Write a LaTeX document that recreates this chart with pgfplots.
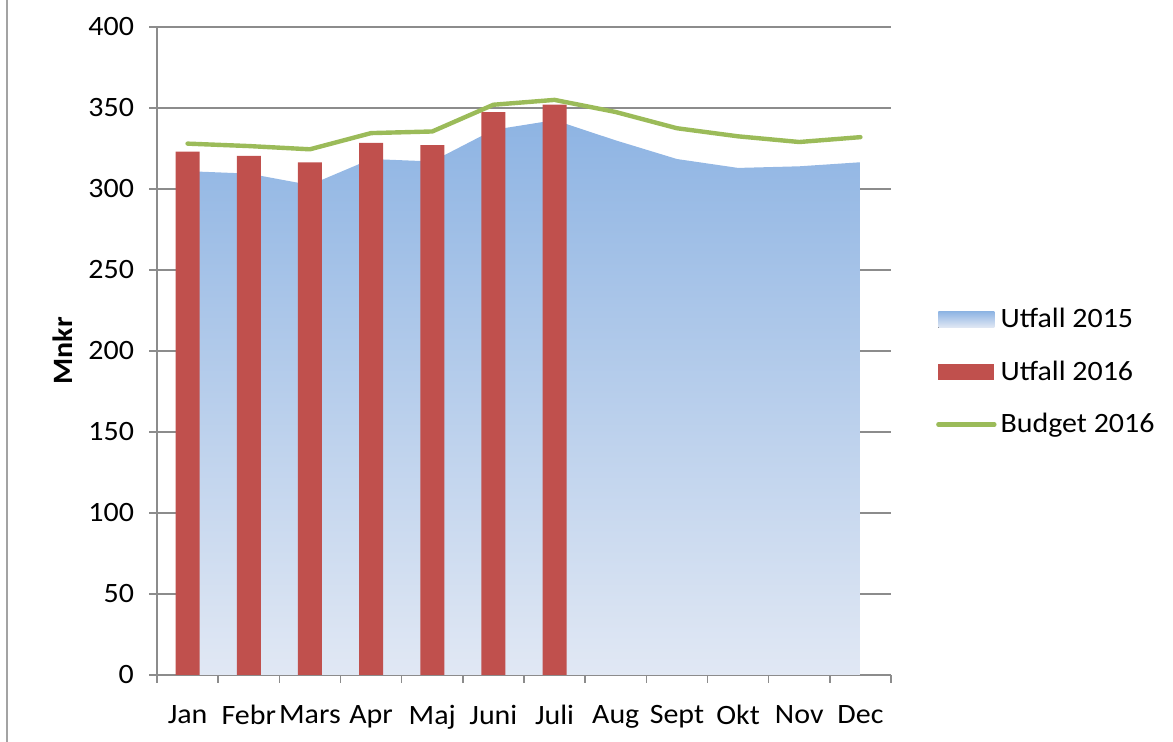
\documentclass[border=0pt]{standalone}
\usepackage{fontspec}
\setmainfont{Carlito}[FakeStretch=1.07]
\usepackage{pgfplots}
\pgfplotsset{compat=1.18}
\definecolor{barred}{HTML}{C0504D}
\definecolor{budgetgreen}{HTML}{9BBB59}
\definecolor{areatop}{HTML}{8EB4E3}
\definecolor{areabot}{HTML}{E1E8F4}
\definecolor{gridgray}{HTML}{8C8C8C}
\begin{document}
\begin{tikzpicture}[x=1pt,y=1pt]
\path[use as bounding box] (0,0) rectangle (586.5,371);
\draw[gridgray!80, line width=0.9pt] (3.5,0) -- (3.5,371);
\begin{axis}[
  at={(78.5pt,33.5pt)}, anchor=south west,
  scale only axis, width=367pt, height=324pt,
  xmin=0.5, xmax=12.5, ymin=0, ymax=400,
  axis x line*=bottom, axis y line*=left,
  axis line style={gridgray, line width=0.8pt, -},
  font=\fontsize{14}{16.5}\selectfont,
  /pgf/number format/assume math mode=true,
  xtick={1,...,12},
  xticklabels={Jan,Febr,Mars,Apr,Maj,Juni,Juli,Aug,Sept,Okt,Nov,Dec},
  major x tick style={draw=none},
  minor xtick={0.5,1.5,...,12.5},
  minor tick length=4pt,
  minor x tick style={gridgray, line width=0.8pt},
  ytick={0,50,...,400},
  major tick length=4pt,
  tick align=outside,
  ytick style={gridgray, line width=0.8pt},
  ymajorgrids, grid style={gridgray, line width=0.8pt},
  xticklabel style={yshift=-7.5pt},
  yticklabel style={xshift=-4pt},
  every axis y label/.style={at={(axis description cs:-0.128,0.5)}, rotate=90, anchor=center, font=\fontsize{14}{16.5}\selectfont\bfseries},
  ylabel={Mnkr},
  legend style={draw=none, fill=none, at={(1.061,0.4676)}, anchor=west, inner sep=0pt, row sep=11pt, font=\fontsize{14}{16.5}\selectfont, nodes={inner sep=2pt}},
  legend cell align=left,
]
\addplot[draw=none, top color=areatop, bottom color=areabot,
  legend image code/.code={\fill[top color=areatop, bottom color=areabot] (0pt,-4pt) rectangle (28pt,4pt);}]
  coordinates {(1,311) (2,309.5) (3,302.5) (4,318.5) (5,317) (6,336.5) (7,342.5) (8,330) (9,318.5) (10,313) (11,314) (12,316.5)} \closedcycle;
\addlegendentry{Utfall 2015}
\addplot[ybar, bar width=12pt, bar shift=0pt, fill=barred, draw=none,
  legend image code/.code={\fill[barred] (0pt,-4pt) rectangle (28pt,4pt);}]
  coordinates {(1,323) (2,320.5) (3,316.5) (4,328.5) (5,327) (6,347.5) (7,352)};
\addlegendentry{Utfall 2016}
\addplot[budgetgreen, line width=2.2pt, line join=round, line cap=round,
  legend image code/.code={\draw[budgetgreen, line width=2.2pt, line cap=round] (0pt,0pt) -- (28pt,0pt);}]
  coordinates {(1,328) (2,326.5) (3,324.5) (4,334.5) (5,335.5) (6,352) (7,355) (8,347.5) (9,337.5) (10,332.5) (11,329) (12,332)};
\addlegendentry{Budget 2016}
\end{axis}
\end{tikzpicture}
\end{document}
